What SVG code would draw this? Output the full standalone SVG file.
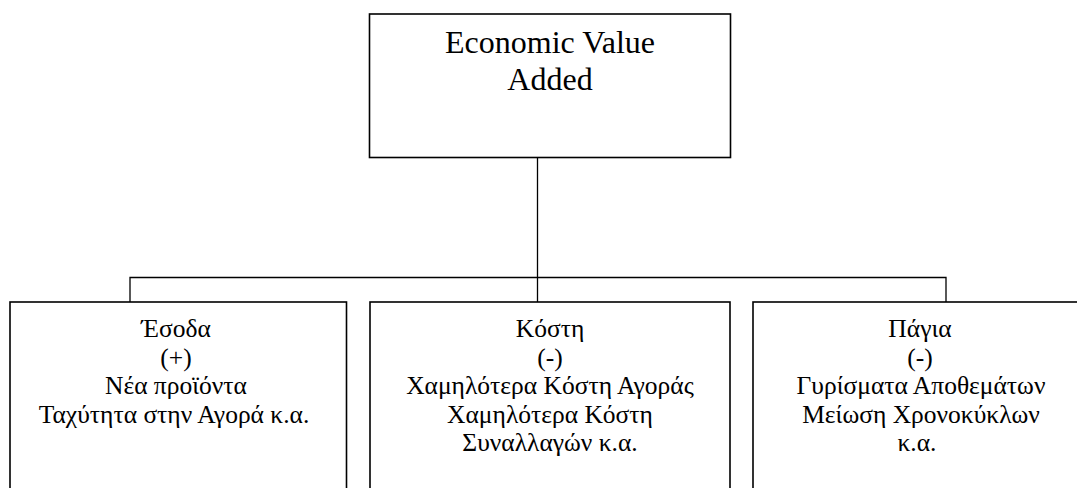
<svg xmlns="http://www.w3.org/2000/svg" width="1077" height="488" viewBox="0 0 1077 488">
<style>
.box{fill:#fff;stroke:#000;stroke-width:1.6}
.conn{fill:none;stroke:#000;stroke-width:1.3}
.t{font-family:"Liberation Serif","Times New Roman",serif;fill:#000;text-anchor:middle}
.big{font-size:32px}
.sm{font-size:25.5px}
</style>
<rect width="1077" height="488" fill="#fff"/>
<g id="connectors">
<path class="conn" d="M537.5 157.5V302M130 302V277.5H946V302"/>
</g>
<g id="node-eva">
<rect class="box" x="369.5" y="14" width="361" height="143.5"/>
<text class="t big" x="550" y="53">Economic Value</text>
<text class="t big" x="550" y="90">Added</text>
</g>
<g id="node-esoda">
<rect class="box" x="10" y="302" width="336.5" height="200"/>
<text class="t sm" x="176" y="337">Έσοδα</text>
<text class="t sm" x="176" y="365.5">(+)</text>
<text class="t sm" x="176" y="394">Νέα προϊόντα</text>
<text class="t sm" x="174" y="422.5">Ταχύτητα στην Αγορά κ.α.</text>
</g>
<g id="node-kosti">
<rect class="box" x="370" y="302" width="360" height="200"/>
<text class="t sm" x="550" y="337">Κόστη</text>
<text class="t sm" x="550" y="365.5">(-)</text>
<text class="t sm" x="550" y="394">Χαμηλότερα Κόστη Αγοράς</text>
<text class="t sm" x="550" y="422.5">Χαμηλότερα Κόστη</text>
<text class="t sm" x="550" y="451">Συναλλαγών κ.α.</text>
</g>
<g id="node-pagia">
<rect class="box" x="753" y="302" width="334" height="200"/>
<text class="t sm" x="920" y="337">Πάγια</text>
<text class="t sm" x="920" y="365.5">(-)</text>
<text class="t sm" x="921" y="394">Γυρίσματα Αποθεμάτων</text>
<text class="t sm" x="921" y="422.5">Μείωση Χρονοκύκλων</text>
<text class="t sm" x="917" y="451">κ.α.</text>
</g>
</svg>
